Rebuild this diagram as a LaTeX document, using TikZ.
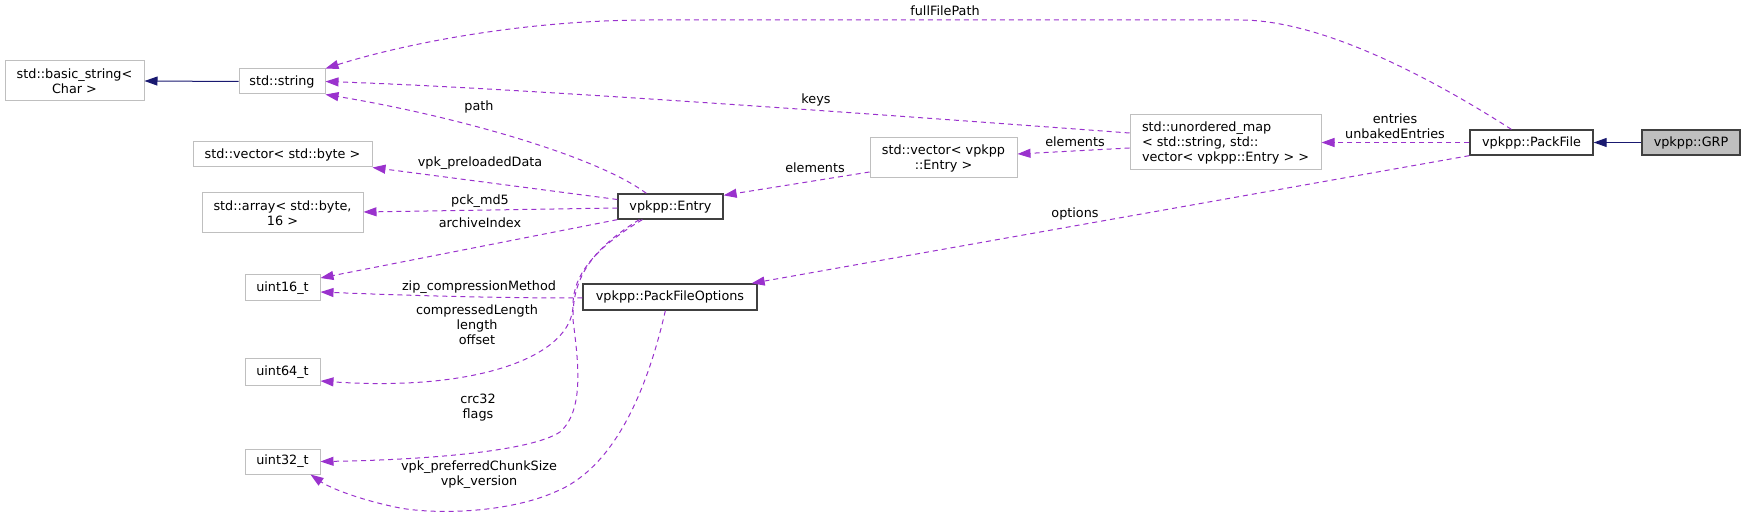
\documentclass[tikz,border=0pt]{standalone}
\usepackage{fontspec}
\setmainfont{DejaVu Sans}
\usetikzlibrary{arrows.meta}
\definecolor{depc}{HTML}{9A32CD}
\definecolor{inhc}{HTML}{191970}
\definecolor{lightb}{HTML}{BFBFBF}
\definecolor{darkb}{HTML}{404040}
\begin{document}
\begin{tikzpicture}[x=1pt,y=-1pt,
  txt/.style={font=\fontsize{12.8}{15}\selectfont},
  box/.style={txt, draw=lightb, line width=1pt, fill=white, inner sep=0pt, align=center},
  cls/.style={box, draw=darkb, line width=1.3pt},
  lbl/.style={txt, inner sep=0pt, align=center},
  dep/.style={draw=depc, line width=1pt, dash pattern=on 5pt off 4pt, -{Triangle[length=13pt,width=9pt,fill=depc]}},
  inh/.style={draw=inhc, line width=1pt, -{Triangle[length=13pt,width=9pt,fill=inhc]}}]
\useasboundingbox (0,0) rectangle (1745,518);

% nodes
\node[cls, fill=lightb, minimum width=98pt, minimum height=25pt] (grp) at (1691,142.5) {vpkpp::GRP};
\node[cls, minimum width=123pt, minimum height=25pt] (packfile) at (1531.5,142.5) {vpkpp::PackFile};
\node[box, align=left, minimum width=191pt, minimum height=55pt] (umap) at (1225.5,142.5) {std::unordered\_map\\< std::string, std::\\vector< vpkpp::Entry > >};
\node[box, minimum width=147pt, minimum height=40pt] (vecentry) at (943.5,158) {std::vector< vpkpp\\::Entry >};
\node[cls, minimum width=105pt, minimum height=25pt] (entry) at (670.5,206.5) {vpkpp::Entry};
\node[cls, minimum width=174pt, minimum height=26pt] (pfo) at (670,297) {vpkpp::PackFileOptions};
\node[box, minimum width=86pt, minimum height=25pt] (string) at (282,81.5) {std::string};
\node[box, minimum width=139pt, minimum height=40pt] (basic) at (74.5,81) {std::basic\_string<\\Char >};
\node[box, minimum width=179pt, minimum height=25pt] (vecbyte) at (282.5,154.5) {std::vector< std::byte >};
\node[box, minimum width=161pt, minimum height=40pt] (array) at (282.5,213) {std::array< std::byte,\\16 >};
\node[box, minimum width=75pt, minimum height=26pt] (u16) at (282.5,288) {uint16\_t};
\node[box, minimum width=75pt, minimum height=26pt] (u64) at (282.5,372) {uint64\_t};
\node[box, minimum width=75pt, minimum height=25pt] (u32) at (282.5,461.5) {uint32\_t};

% inheritance
\draw[inh] (grp.west) -- (packfile.east);
\draw[inh] (string.west) -- (basic.east);

% usage edges
\draw[dep] ([xshift=42pt]packfile.north west) .. controls (1450,90) and (1330,20) .. (1240,20) -- (650,20) .. controls (520,20) and (400,45) .. (string.north east);
\draw[dep] ([yshift=9.5pt]umap.west) .. controls (900,116) and (520,88) .. (string.east);
\draw[dep] ([xshift=29pt]entry.north west) .. controls (595,155) and (450,115) .. (string.south east);
\draw[dep] ([yshift=7pt]entry.west) -- (vecbyte.south east);
\draw[dep] ([yshift=-1.5pt]entry.west) -- ([yshift=1pt]array.east);
\draw[dep] (entry.south west) -- ([yshift=10pt]u16.east);
\draw[dep] ([yshift=-1pt]pfo.west) .. controls (500,298) and (420,296) .. ([yshift=-4pt]u16.east);
\draw[dep] ([xshift=25pt]entry.south west) .. controls (595,248) and (573,275) .. (573,305) .. controls (573,355) and (480,392) .. ([yshift=-9pt]u64.east);
\draw[dep] ([xshift=22pt]entry.south west) .. controls (590,250) and (572,280) .. (573,320) .. controls (578,360) and (585,410) .. (560,432) .. controls (530,452) and (420,460) .. (u32.east);
\draw[dep] ([xshift=83pt]pfo.south west) .. controls (645,400) and (610,470) .. (555,492) .. controls (510,512) and (440,515) .. (400,508) .. controls (360,500) and (330,488) .. ([xshift=-10pt]u32.south east);
\draw[dep] ([yshift=-14pt]vecentry.west) -- ([yshift=-2pt]entry.north east);
\draw[dep] ([yshift=-5.5pt]umap.west) -- ([yshift=4pt]vecentry.east);
\draw[dep] (packfile.west) -- (umap.east);
\draw[dep] (packfile.south west) -- ([xshift=-6pt]pfo.north east);

% labels
\node[lbl] (l-full) at (945,11) {fullFilePath};
\node[lbl] (l-keys) at (816,100) {keys};
\node[lbl] (l-path) at (479,107) {path};
\node[lbl] (l-pre) at (480,163) {vpk\_preloadedData};
\node[lbl] (l-md5) at (480,201) {pck\_md5};
\node[lbl] (l-arch) at (480,223) {archiveIndex};
\node[lbl] (l-zip) at (479,287) {zip\_compressionMethod};
\node[lbl] (l-len) at (477,325) {compressedLength\\length\\offset};
\node[lbl] (l-crc) at (478,407.5) {crc32\\flags};
\node[lbl] (l-chunk) at (479,475) {vpk\_preferredChunkSize\\vpk\_version};
\node[lbl] (l-el1) at (815,168) {elements};
\node[lbl] (l-el2) at (1075,142) {elements};
\node[lbl] (l-opt) at (1075,214) {options};
\node[lbl] (l-ent) at (1395,126.5) {entries\\unbakedEntries};
\end{tikzpicture}
\end{document}
